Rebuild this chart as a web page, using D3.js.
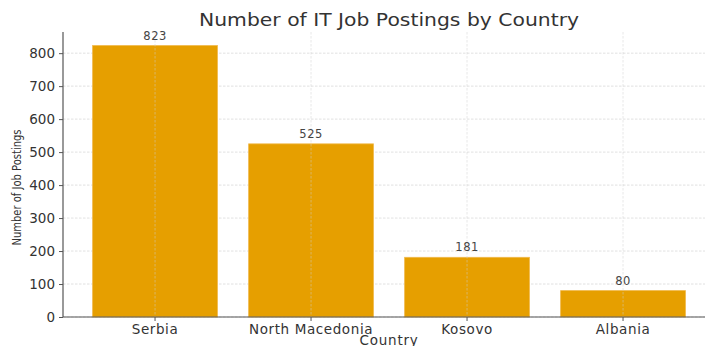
<!DOCTYPE html>
<html>
<head>
<meta charset="utf-8">
<script src="https://cdn.jsdelivr.net/npm/d3@7"></script>
<style>
  html, body { margin: 0; padding: 0; background: #fff; }
  svg { display: block; font-family: "DejaVu Sans", sans-serif; }
</style>
</head>
<body>
<svg id="chart" width="705" height="346"></svg>
<script>
// Job posting counts per country
const countries = ["Serbia", "North Macedonia", "Kosovo", "Albania"];
const postings = [823, 525, 181, 80];
const yTicks = [0, 100, 200, 300, 400, 500, 600, 700, 800];

const svg = d3.select("#chart");
const margin = { left: 63, top: 32, bottom: 29 };
const plotBottom = 346 - margin.bottom;

// Band layout: bar width 0.8 of a slot, with 0.05 padding beyond the outer bars
const slot = 156;
const xLeft = margin.left;
const xRight = xLeft + slot * 4.18;

const x = d3.scaleBand()
  .domain(countries)
  .range([xLeft + slot * 0.09, xRight - slot * 0.09])
  .paddingInner(0.2)
  .paddingOuter(0.1);

const yMax = d3.max(postings) * 1.05;
const y = d3.scaleLinear().domain([0, yMax]).range([plotBottom, margin.top]);

const gridColor = "#d9d9d9";

// horizontal grid behind the bars
svg.append("g")
  .selectAll("line")
  .data(yTicks)
  .join("line")
  .attr("x1", xLeft).attr("x2", xRight)
  .attr("y1", d => y(d)).attr("y2", d => y(d))
  .attr("stroke", gridColor)
  .attr("stroke-width", 0.8)
  .attr("stroke-dasharray", "2.5,1.5");

// bars
svg.append("g")
  .selectAll("rect")
  .data(countries)
  .join("rect")
  .attr("x", d => x(d))
  .attr("width", x.bandwidth())
  .attr("y", (d, i) => y(postings[i]))
  .attr("height", (d, i) => plotBottom - y(postings[i]))
  .attr("fill", "#E69F00")
  .attr("stroke", "#f0b84a")
  .attr("stroke-width", 0.8);

// vertical grid drawn over the bars
svg.append("g")
  .selectAll("line")
  .data(countries)
  .join("line")
  .attr("x1", d => x(d) + x.bandwidth() / 2)
  .attr("x2", d => x(d) + x.bandwidth() / 2)
  .attr("y1", margin.top).attr("y2", plotBottom)
  .attr("stroke", "#cfcfcf")
  .attr("stroke-opacity", 0.6)
  .attr("stroke-width", 0.8)
  .attr("stroke-dasharray", "2.5,1.5");

// value labels above the bars
svg.append("g")
  .selectAll("text")
  .data(countries)
  .join("text")
  .attr("x", d => x(d) + x.bandwidth() / 2)
  .attr("y", (d, i) => y(postings[i]) - 6)
  .attr("text-anchor", "middle")
  .attr("font-size", 11.5)
  .attr("letter-spacing", 0.5)
  .attr("fill", "#444")
  .text((d, i) => postings[i]);

// y axis
const yAxis = svg.append("g")
  .attr("transform", `translate(${xLeft},0)`)
  .call(d3.axisLeft(y).tickValues(yTicks).tickSize(4).tickPadding(4));
yAxis.select(".domain").attr("stroke", "#555").attr("stroke-width", 1.2)
  .attr("d", `M0,${margin.top}V${plotBottom}`);
yAxis.selectAll(".tick line").attr("stroke", "#555");
yAxis.selectAll(".tick text").attr("font-size", 13.5).attr("fill", "#333")
  .attr("font-family", "DejaVu Sans, sans-serif");

// x axis
const xAxis = svg.append("g")
  .attr("transform", `translate(0,${plotBottom})`)
  .call(d3.axisBottom(x).tickSize(4).tickPadding(3));
xAxis.select(".domain").attr("stroke", "#555").attr("stroke-width", 1.2)
  .attr("d", `M${xLeft},0H${xRight}`);
xAxis.selectAll(".tick line").attr("stroke", "#555");
xAxis.selectAll(".tick text").attr("font-size", 13.5).attr("fill", "#333")
  .attr("letter-spacing", 0.6)
  .attr("font-family", "DejaVu Sans, sans-serif");

// title
svg.append("text")
  .attr("x", (xLeft + xRight) / 2)
  .attr("y", 26)
  .attr("text-anchor", "middle")
  .attr("font-size", 18)
  .attr("fill", "#333")
  .attr("textLength", 380)
  .attr("lengthAdjust", "spacingAndGlyphs")
  .text("Number of IT Job Postings by Country");

// axis titles
svg.append("text")
  .attr("x", (xLeft + xRight) / 2)
  .attr("y", 345)
  .attr("text-anchor", "middle")
  .attr("font-size", 13.5)
  .attr("letter-spacing", 0.8)
  .attr("fill", "#333")
  .text("Country");

svg.append("text")
  .attr("transform", `translate(21,${(margin.top + plotBottom) / 2 + 13}) rotate(-90)`)
  .attr("text-anchor", "middle")
  .attr("font-size", 13)
  .attr("fill", "#333")
  .attr("textLength", 116)
  .attr("lengthAdjust", "spacingAndGlyphs")
  .text("Number of Job Postings");
</script>
</body>
</html>
